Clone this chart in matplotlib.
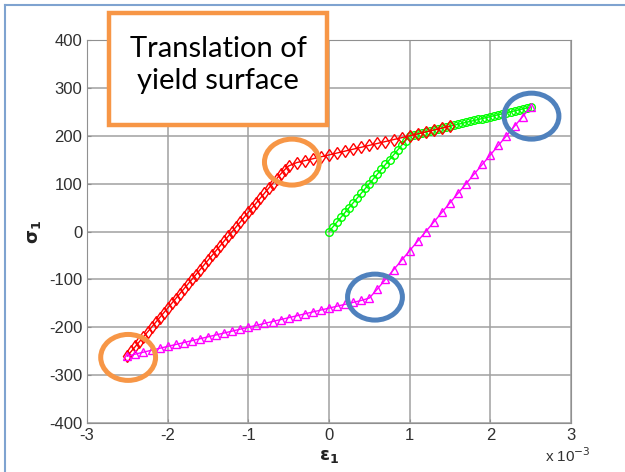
import matplotlib.pyplot as plt
from matplotlib.patches import Ellipse, Rectangle

# strain values in units of 1e-3, stress in MPa
eps_load = [0.00, 0.05, 0.10, 0.15, 0.20, 0.25, 0.30, 0.35, 0.40, 0.45, 0.50,
            0.55, 0.60, 0.65, 0.70, 0.75, 0.80, 0.85, 0.90, 0.95, 1.00,
            1.05, 1.10, 1.15, 1.20, 1.25, 1.30, 1.35, 1.40, 1.45, 1.50,
            1.55, 1.60, 1.65, 1.70, 1.75, 1.80, 1.85, 1.90, 1.95, 2.00,
            2.05, 2.10, 2.15, 2.20, 2.25, 2.30, 2.35, 2.40, 2.45, 2.50]
sig_load = [0, 10, 20, 30, 40, 50, 60, 70, 80, 90, 100,
            110, 120, 130, 140, 150, 160, 170, 180, 190, 200,
            202, 204, 206, 208, 210, 212, 214, 216, 218, 220,
            222, 224, 226, 228, 230, 232, 234, 236, 238, 240,
            242, 244, 246, 248, 250, 252, 254, 256, 258, 260]

eps_unload = [2.5, 2.4, 2.3, 2.2, 2.1, 2.0, 1.9, 1.8, 1.7, 1.6, 1.5,
              1.4, 1.3, 1.2, 1.1, 1.0, 0.9, 0.8, 0.7, 0.6, 0.5,
              0.4, 0.3, 0.2, 0.1, 0.0, -0.1, -0.2, -0.3, -0.4, -0.5,
              -0.6, -0.7, -0.8, -0.9, -1.0, -1.1, -1.2, -1.3, -1.4, -1.5,
              -1.6, -1.7, -1.8, -1.9, -2.0, -2.1, -2.2, -2.3, -2.4, -2.5]
sig_unload = [260, 240, 220, 200, 180, 160, 140, 120, 100, 80, 60,
              40, 20, 0, -20, -40, -60, -80, -100, -120, -139,
              -144, -148, -152, -156, -160, -164, -168, -172, -176, -180,
              -184, -188, -192, -196, -200, -204, -208, -212, -216, -220,
              -224, -228, -232, -236, -240, -244, -248, -252, -256, -260]

eps_reload = [-2.50, -2.45, -2.40, -2.35, -2.30, -2.25, -2.20, -2.15, -2.10, -2.05,
              -2.00, -1.95, -1.90, -1.85, -1.80, -1.75, -1.70, -1.65, -1.60, -1.55,
              -1.50, -1.45, -1.40, -1.35, -1.30, -1.25, -1.20, -1.15, -1.10, -1.05,
              -1.00, -0.95, -0.90, -0.85, -0.80, -0.75, -0.70, -0.65, -0.60, -0.55,
              -0.50, -0.40, -0.30, -0.20, -0.10, 0.00, 0.10, 0.20, 0.30, 0.40,
              0.50, 0.60, 0.70, 0.80, 0.90, 1.00, 1.10, 1.20, 1.30, 1.40, 1.50]
sig_reload = [-260, -250, -240, -230, -220, -210, -200, -190, -180, -170,
              -160, -150, -140, -130, -120, -110, -100, -90, -80, -70,
              -60, -50, -40, -30, -20, -10, 0, 10, 20, 30,
              40, 50, 60, 70, 80, 90, 100, 110, 120, 129,
              137, 144, 148, 152, 156, 160, 164, 168, 172, 176,
              180, 184, 188, 192, 196, 200, 204, 208, 212, 216, 220]

x_ticks = [-3, -2, -1, 0, 1, 2, 3]
y_ticks = [-400, -300, -200, -100, 0, 100, 200, 300, 400]

orange = '#f79646'
blue = '#4f81bd'

fig = plt.figure(figsize=(6.25, 4.72), dpi=100)
ax = fig.add_axes([0.1392, 0.1038, 0.7744, 0.8114])

ax.plot(eps_load, sig_load, color='#00ff00', marker='o', mfc='none',
        ms=5.5, mew=1.0, lw=1.0)
ax.plot(eps_reload, sig_reload, color='#ff0000', marker='d', mfc='none',
        ms=6.2, mew=1.0, lw=1.0)
ax.plot(eps_unload, sig_unload, color='#ff00ff', marker='^', mfc='none',
        ms=5.8, mew=1.0, lw=1.0)

ax.set_xlim(-3, 3)
ax.set_ylim(-400, 400)
ax.set_xticks(x_ticks)
ax.set_yticks(y_ticks)
ax.set_xticklabels([str(t) for t in x_ticks])
ax.set_yticklabels([str(t) for t in y_ticks])
ax.grid(True, color='#a0a0a0', lw=1.1)
ax.set_axisbelow(True)
ax.tick_params(direction='in', length=3, colors='#909090', labelcolor='#303030',
               labelsize=12)
for lab in ax.get_xticklabels() + ax.get_yticklabels():
    lab.set_family('Liberation Sans')
for s in ax.spines.values():
    s.set_color('#909090')

ax.set_xlabel(r'$\mathbf{\epsilon_1}$', fontsize=13, labelpad=3, color='#222222')
ax.set_ylabel(r'$\mathbf{\sigma_1}$', fontsize=13, labelpad=4, color='#222222')
fig.text(0.872, 0.022, r'x 10$^{-3}$', fontsize=11, family='Liberation Sans',
         color='#303030')

# circles marking the yield points
for (cx, cy), col in [((-0.46, 145), orange), ((-2.49, -263), orange),
                      ((2.51, 241), blue), ((0.57, -137), blue)]:
    ax.add_patch(Ellipse((cx, cy), 0.68, 96, fill=False, ec=col, lw=3.6,
                         clip_on=False, zorder=5))

# note box
fig.patches.append(Rectangle((0.1744, 0.7352), 0.3488, 0.2373, transform=fig.transFigure,
                             fc='white', ec=orange, lw=3.2, zorder=10))
fig.text(0.3488, 0.862, 'Translation of\nyield surface', ha='center', va='center',
         fontsize=21, family='Lato', linespacing=1.3, zorder=11)

# outer frame
fig.add_artist(plt.Line2D([0.008, 0.008], [0.0, 0.99], color='#7fa3d0', lw=1.5))
fig.add_artist(plt.Line2D([0.008, 1.0], [0.99, 0.99], color='#7fa3d0', lw=1.5))

fig.savefig('out.png', dpi=100)
